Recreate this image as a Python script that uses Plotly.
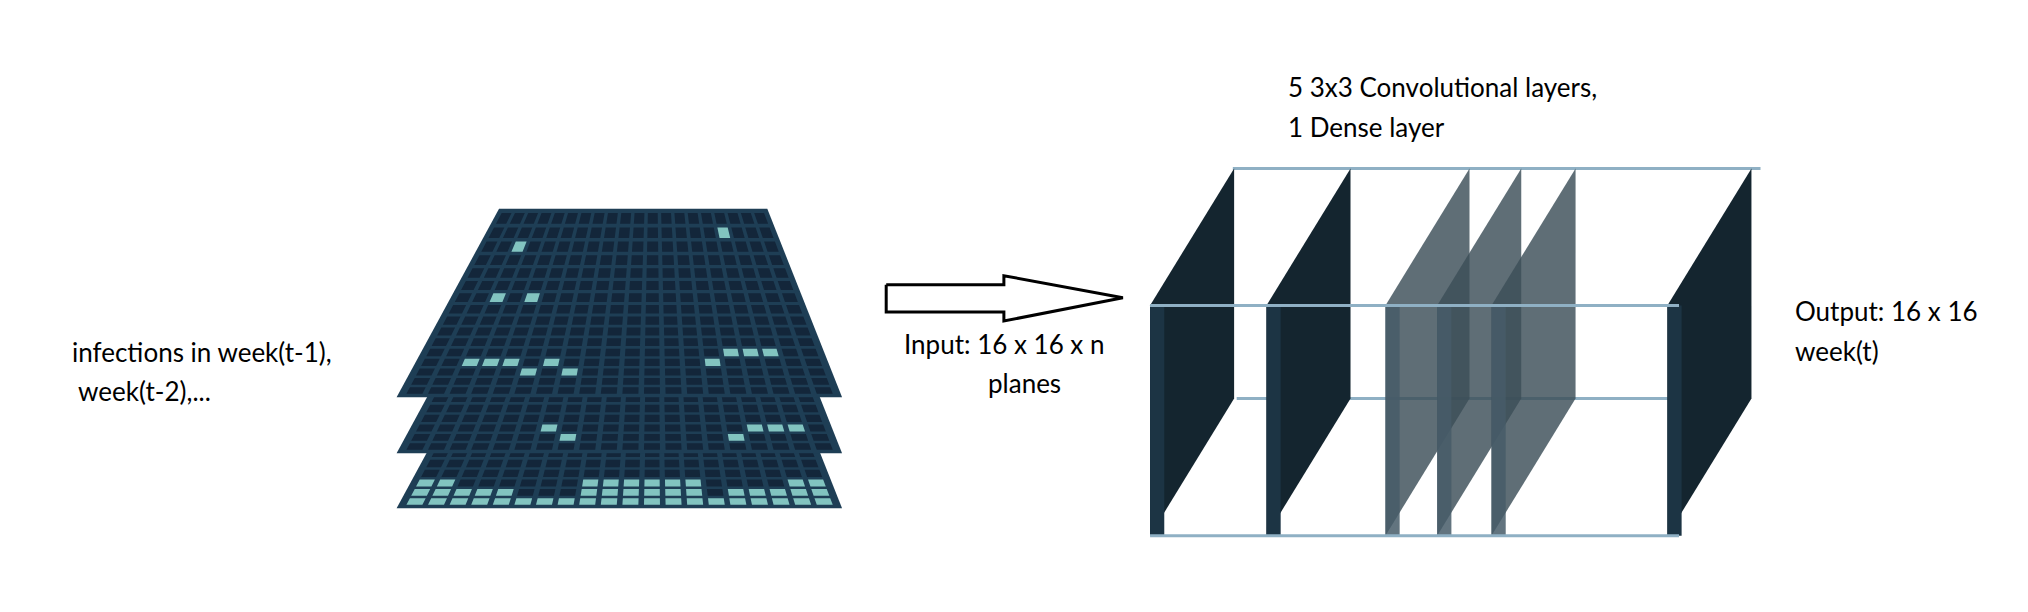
import plotly.graph_objects as go

W, H = 2028, 612
S = 2028 / 1568

# ---- data: grid activity (16 rows x 20 cols, per layer: (row, col) lit cells) ----
N_ROWS, N_COLS = 16, 20
top_lit = [(2, 2), (1, 16), (6, 2), (6, 4), (11, 15), (11, 16), (11, 17),
           (12, 2), (12, 3), (12, 4), (12, 6), (12, 14), (13, 5), (13, 7)]
mid_lit = [(13, 6), (13, 16), (13, 17), (13, 18), (14, 7), (14, 15)]
bot_lit = ([(13, c) for c in [0, 1, 8, 9, 10, 11, 12, 13, 18, 19]] +
           [(14, c) for c in [0, 1, 2, 3, 4, 8, 9, 10, 11, 12, 13, 15, 16, 17, 18, 19]] +
           [(15, c) for c in range(20)])
layer_shift = [111, 56, 0]
layer_lit = [bot_lit, mid_lit, top_lit]

texts = ["5 3x3 Convolutional layers,", "1 Dense layer", "infections in week(t-1),",
         " week(t-2),...", "Input: 16 x 16 x n", "planes", "Output: 16 x 16", "week(t)"]

FRAME, DARK, LIGHT = "#1e3e55", "#13263a", "#82c4c0"

fig = go.Figure()

TL, TR, BL, BR = (493, 203), (757, 203), (395, 387), (828, 387)

def persp(v):
    a = 1.3
    return v * a / (1 + (a - 1) * v)

def pt(u, v, dy):
    v = persp(v) if 0 <= v <= 1 else v
    xl = TL[0] + (BL[0] - TL[0]) * v
    xr = TR[0] + (BR[0] - TR[0]) * v
    y = TL[1] + (BL[1] - TL[1]) * v + dy
    return xl + (xr - xl) * u, y

def poly(pts):
    xs = [p[0] for p in pts] + [pts[0][0], None]
    ys = [p[1] for p in pts] + [pts[0][1], None]
    return xs, ys

def add_fill(xs, ys, color):
    fig.add_trace(go.Scatter(x=xs, y=ys, mode="lines", fill="toself", fillcolor=color,
                             line=dict(width=0, color=color),
                             hoverinfo="skip", showlegend=False))

for dy, lit in zip(layer_shift, layer_lit):
    fx, fy = poly([pt(-0.012, -0.012, dy), pt(1.012, -0.012, dy), pt(1.012, 1.012, dy), pt(-0.012, 1.012, dy)])
    add_fill(fx, fy, FRAME)
    litset = set(lit)
    for color, want in ((DARK, False), (LIGHT, True)):
        xs, ys = [], []
        for r in range(N_ROWS):
            for c in range(N_COLS):
                if ((r, c) in litset) != want:
                    continue
                g = 0.13
                u0, u1 = (c + g) / N_COLS, (c + 1 - g) / N_COLS
                v0, v1 = (r + g) / N_ROWS, (r + 1 - g) / N_ROWS
                a, b = poly([pt(u0, v0, dy), pt(u1, v0, dy), pt(u1, v1, dy), pt(u0, v1, dy)])
                xs += a; ys += b
        if xs:
            add_fill(xs, ys, color)

# ---- arrow ----
arrow = [(679, 214), (770, 214), (770, 207), (862, 224), (770, 242), (770, 235), (679, 235)]
ax, ay = poly([(x * S, y * S) for x, y in arrow])
fig.add_trace(go.Scatter(x=ax, y=ay, mode="lines", line=dict(color="black", width=3),
                         hoverinfo="skip", showlegend=False))

# ---- box of layers (displayed coords * S) ----
FT, FB, DX, DY = 230, 408, 65, -106
panels = [(883, "dark"), (973, "dark"), (1065, "tr"), (1105, "tr"), (1147, "tr"), (1283, "dark")]
EDGE = "#8fb0c4"

def box_line(x0, y0, x1, y1):
    fig.add_trace(go.Scatter(x=[x0 * S, x1 * S], y=[y0 * S, y1 * S], mode="lines",
                             line=dict(color=EDGE, width=3), hoverinfo="skip", showlegend=False))

box_line(947, FT + DY, 1355, FT + DY)
box_line(950, FB + DY, 1290, FB + DY)
for x, kind in panels:
    face = [(x, FT), (x + DX, FT + DY), (x + DX, FB + DY), (x, FB)]
    thick = 11
    side = [(x, FT), (x + thick, FT), (x + thick, FB), (x, FB)]
    if kind == "dark":
        fc, sc = "#14252f", "#1c3444"
    else:
        fc, sc = "rgba(60,78,88,0.82)", "rgba(70,92,105,0.85)"
    px, py = poly([(a * S, b * S) for a, b in face])
    add_fill(px, py, fc)
    sx, sy = poly([(a * S, b * S) for a, b in side])
    add_fill(sx, sy, sc)
box_line(883, FT, 1292, FT)
box_line(883, FB, 1292, FB)

# ---- texts ----
pos = [(988, 61), (988, 92), (48, 266), (48, 296), (691, 260), (786, 290), (1380, 234), (1380, 265)]
anchors = ["left", "left", "left", "left", "left", "center", "left", "left"]
for t, (x, y), a in zip(texts, pos, anchors):
    fig.add_annotation(x=x * S, y=y * S, text=t, showarrow=False, xanchor=a, yanchor="middle",
                       font=dict(family="Lato, Open Sans, sans-serif", size=26, color="black"))

fig.update_xaxes(range=[0, W], visible=False, fixedrange=True)
fig.update_yaxes(range=[H, 0], visible=False, fixedrange=True)
fig.update_layout(width=W, height=H, margin=dict(l=0, r=0, t=0, b=0),
                  plot_bgcolor="white", paper_bgcolor="white")
fig.write_html("out.html")
